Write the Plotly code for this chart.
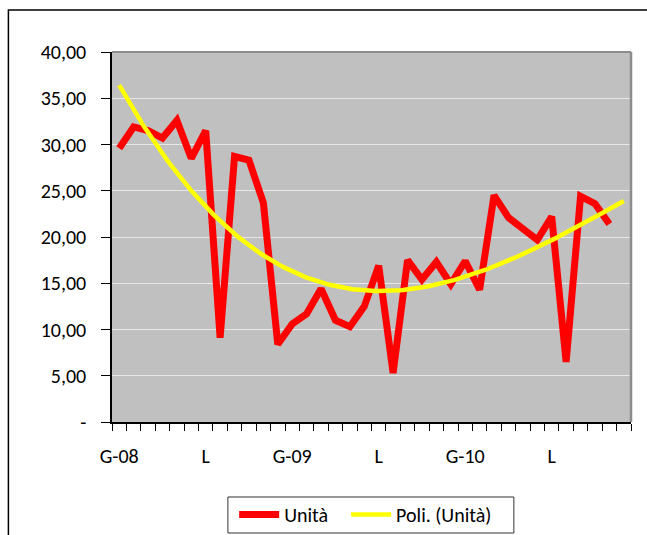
import numpy as np
import plotly.graph_objects as go

# Monthly values, Jan 2008 .. Nov 2010 (Dec 2010 has no value yet)
mesi = [f"{m}-{a}" for a in ("08", "09", "10") for m in range(1, 13)]
unita = [29.6, 31.9, 31.5, 30.7, 32.6, 28.5, 31.5, 9.1, 28.7, 28.3, 23.7, 8.4,
         10.6, 11.7, 14.4, 11.0, 10.3, 12.5, 16.9, 5.3, 17.5, 15.4, 17.3, 14.9,
         17.4, 14.3, 24.5, 22.1, 20.9, 19.7, 22.2, 6.5, 24.4, 23.6, 21.4]

# Axis labels
x_tick_pos = [0, 6, 12, 18, 24, 30]
x_tick_txt = ["G-08", "L", "G-09", "L", "G-10", "L"]
y_tick_val = [0, 5, 10, 15, 20, 25, 30, 35, 40]
y_tick_txt = ["-", "5,00", "10,00", "15,00", "20,00", "25,00", "30,00", "35,00", "40,00"]

# Polynomial trend (order 3) over the series, drawn across all months
xi = np.arange(len(unita))
coef = np.polyfit(xi, unita, 3)
xt = np.linspace(0, len(mesi) - 1, 200)
yt = np.polyval(coef, xt)

FONT = "Carlito, Lato, sans-serif"

fig = go.Figure()
fig.add_trace(go.Scatter(x=xi, y=unita, mode="lines", name="Unità",
                         line=dict(color="#FF0000", width=7, shape="linear"),
                         hoverinfo="skip", legend="legend"))
fig.add_trace(go.Scatter(x=xt, y=yt, mode="lines", name="Poli. (Unità)",
                         line=dict(color="#FFFF00", width=4.5),
                         hoverinfo="skip", legend="legend2"))

leg_common = dict(orientation="h", xanchor="left", yanchor="top",
                  borderwidth=0, bgcolor="rgba(0,0,0,0)",
                  font=dict(family=FONT, size=20), itemwidth=40)

fig.update_layout(
    width=647, height=535,
    margin=dict(l=112, r=16, t=52, b=113, autoexpand=False),
    paper_bgcolor="white",
    plot_bgcolor="#C0C0C0",
    font=dict(family=FONT, size=20, color="black"),
    showlegend=True,
    legend=dict(x=0.2354, y=-0.197, **leg_common),
    legend2=dict(x=0.451, y=-0.197, **leg_common),
    xaxis=dict(range=[-0.5, len(mesi) - 0.5], showgrid=False, zeroline=False,
               showline=True, linecolor="black", linewidth=1.5,
               tickmode="array", tickvals=x_tick_pos, ticktext=x_tick_txt,
               ticks="", ticklabelstandoff=15,
               minor=dict(tick0=-0.5, dtick=1, ticks="outside", ticklen=7,
                          tickcolor="black", tickwidth=1, showgrid=False)),
    yaxis=dict(range=[0, 40], showgrid=True, gridcolor="#E8E8E8", gridwidth=1.2,
               zeroline=False, showline=True, linecolor="black", linewidth=1.5,
               tickmode="array", tickvals=y_tick_val, ticktext=y_tick_txt,
               ticks="outside", ticklen=9, tickcolor="black", tickwidth=1,
               ticklabelstandoff=11),
    shapes=[
        # plot-area frame on top and right
        dict(type="line", xref="paper", yref="paper", x0=0, x1=1, y0=1, y1=1,
             line=dict(color="#8C8C8C", width=2)),
        dict(type="line", xref="paper", yref="paper", x0=1, x1=1, y0=0, y1=1,
             line=dict(color="#8C8C8C", width=2.5)),
        # chart-area border
        dict(type="rect", xref="paper", yref="paper",
             x0=-0.1996, x1=1.1, y0=-0.4, y1=1.1135,
             line=dict(color="black", width=1.5), layer="below"),
        # legend box
        dict(type="rect", xref="paper", yref="paper",
             x0=0.2233, x1=0.7743, y0=-0.300, y1=-0.2027,
             line=dict(color="#333333", width=1), fillcolor="white",
             layer="below"),
    ],
)

fig.write_html("out.html")
